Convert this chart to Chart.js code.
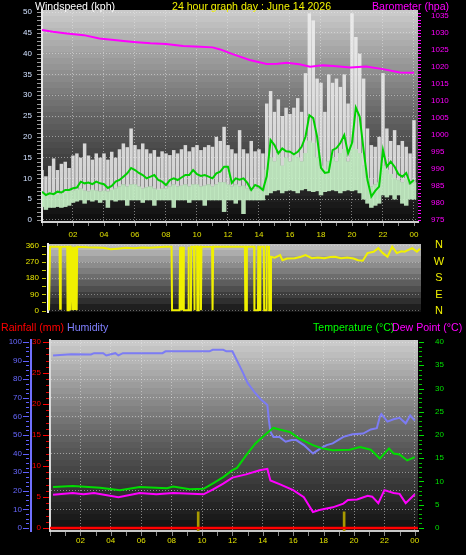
<!DOCTYPE html>
<html>
<head>
<meta charset="utf-8">
<script src="https://cdn.jsdelivr.net/npm/chart.js@4"></script>
<style>
  html, body { margin: 0; padding: 0; background: #000; }
  #wrap { position: relative; width: 466px; height: 555px; overflow: hidden; background: #000;
          font-family: "Liberation Sans", Arial, sans-serif; }
  canvas { position: absolute; left: 0; }
  .t { position: absolute; font-size: 10.6px; line-height: 12px; white-space: nowrap; }
  .d { position: absolute; left: 432px; width: 14px; text-align: center; font-size: 11px; line-height: 12px; color: #f0f000; }
</style>
</head>
<body>
<div id="wrap">
  <canvas id="windChart" width="466" height="245" style="top:0"></canvas>
  <canvas id="dirChart" width="466" height="80" style="top:236px"></canvas>
  <canvas id="tempChart" width="466" height="225" style="top:330px"></canvas>

  <div class="t" style="left:35px;top:0;color:#ffffff">Windspeed (kph)</div>
  <div class="t" style="left:172px;top:0;color:#f0f000">24 hour graph day : June 14 2026</div>
  <div class="t" style="left:372px;top:0;color:#ff00ff">Barometer (hpa)</div>

  <div class="d" style="top:238px">N</div>
  <div class="d" style="top:255px">W</div>
  <div class="d" style="top:271px">S</div>
  <div class="d" style="top:288px">E</div>
  <div class="d" style="top:304px">N</div>

  <div class="t" style="left:1px;top:321px;color:#ff0000">Rainfall (mm)</div>
  <div class="t" style="left:67px;top:321px;color:#8080ff">Humidity</div>
  <div class="t" style="left:313px;top:321px;color:#00ff00">Temperature (°C)</div>
  <div class="t" style="left:392px;top:321px;color:#ff00ff">Dew Point (°C)</div>
</div>

<script>
// ---- data ----
const xTickHours = [2, 4, 6, 8, 10, 12, 14, 16, 18, 20, 22, 24];

// windspeed panel, one value per 15 minutes (kph)
const gustHi = [12, 10.5, 13, 14.8, 12, 13.5, 14, 12.5,
  15.5, 16, 15, 18.4, 15.5, 14.5, 16, 15,
  16, 14.5, 16.4, 15, 17, 18.4, 17.5, 22,
  18, 17, 18.4, 17, 16, 16.8, 15.2, 16.5,
  16, 15.6, 16.8, 16, 17, 18, 16.5, 17.5,
  18, 16.8, 17.5, 18, 17.6, 20, 19, 22.4,
  18, 17, 16, 21.6, 17, 16, 19, 16.5,
  17, 16, 28, 31, 26, 29, 25, 27,
  25.5, 27, 29.3, 26, 35.3, 49.7, 48, 34,
  33, 26, 35, 33, 34, 32, 35, 28,
  49.7, 44, 40, 34, 22, 18, 17.6, 20,
  35.3, 22, 19, 21.6, 18, 19, 17.6, 16,
  24];
const windHi = [6.5, 6.2, 6.5, 6.5, 6.0, 6.5, 6.4, 7.0,
  7.0, 7.2, 7.5, 7.0, 6.8, 7.2, 7.0, 6.8,
  7.0, 6.8, 7.2, 7.5, 8.0, 8.5, 8.0, 8.5,
  8.5, 8.0, 7.5, 7.8, 8.0, 7.5, 7.2, 7.5,
  7.5, 8.0, 8.5, 8.0, 8.2, 8.5, 8.0, 8.5,
  8.5, 8.0, 8.2, 8.5, 8.0, 8.5, 9.0, 9.0,
  8.5, 8.0, 8.5, 8.0, 8.2, 7.5, 7.0, 7.5,
  7.5, 7.0, 12.0, 15.0, 14.0, 16.0, 13.0, 15.0,
  14.0, 16.0, 15.0, 14.0, 16.0, 19.0, 18.5, 15.0,
  13.0, 12.0, 14.0, 15.0, 14.0, 16.0, 17.0, 14.0,
  18.5, 17.0, 16.0, 13.0, 10.0, 8.0, 8.5, 9.0,
  13.0, 12.0, 11.0, 10.0, 9.5, 9.0, 10.0, 8.5,
  9.0];
const windLo = [3.2, 2.5, 3.0, 3.0, 3.2, 3.0, 3.2, 3.5,
  4.2, 4.5, 4.8, 4.0, 4.8, 4.5, 4.8, 4.2,
  4.8, 3.0, 4.8, 4.5, 4.8, 4.8, 3.5, 4.8,
  4.8, 4.8, 4.2, 4.8, 4.8, 3.5, 4.8, 4.8,
  4.8, 4.8, 3.0, 4.8, 4.8, 4.8, 4.2, 4.8,
  4.8, 4.8, 3.5, 4.8, 4.8, 4.8, 4.8, 2.0,
  4.8, 4.8, 4.0, 4.8, 1.5, 4.8, 4.8, 4.8,
  4.8, 4.8, 6.0, 6.5, 7.0, 7.2, 6.5, 7.0,
  7.2, 7.0, 6.5, 7.2, 7.5, 7.0, 6.8, 7.0,
  6.0, 6.8, 7.0, 7.2, 7.0, 6.5, 7.0, 7.2,
  7.0, 7.2, 6.5, 5.0, 4.0, 3.0, 3.5, 4.0,
  6.0, 5.5, 6.0, 5.0, 6.0, 4.0, 3.5, 5.0,
  5.0];
const windAvg = [6.8, 6.0, 6.4, 6.2, 6.8, 6.6, 7.2, 7.2,
  7.6, 7.8, 9.2, 8.8, 9.0, 8.6, 9.2, 8.8,
  8.6, 7.7, 8.2, 9.2, 9.6, 10.4, 11.2, 12.5,
  12.0, 11.3, 10.8, 10.0, 10.4, 10.8, 9.6, 9.2,
  8.4, 9.6, 10.0, 9.6, 10.2, 10.8, 10.8, 12.0,
  11.0, 10.6, 10.8, 10.4, 10.0, 11.2, 11.6, 12.8,
  12.8, 8.9, 10.0, 9.7, 10.0, 8.9, 7.2, 8.4,
  8.0, 7.2, 10.5, 19.2, 18.0, 16.0, 17.2, 16.5,
  16.4, 15.8, 16.4, 17.6, 20.0, 25.2, 24.5, 20.0,
  12.5, 11.3, 11.5, 16.8, 17.3, 18.5, 20.4, 16.0,
  18.5, 27.0, 24.8, 16.8, 9.6, 5.6, 7.0, 8.0,
  16.8, 12.8, 14.0, 12.8, 11.0, 10.4, 11.3, 8.8,
  9.6];
const windHours = Array.from({ length: gustHi.length }, (_, i) => i / 4);
const windTicks = [0, 5, 10, 15, 20, 25, 30, 35, 40, 45, 50];

// barometer [hour, hPa]
const barometer = [[0, 1030.9], [0.7, 1030.4], [1.6, 1029.9], [2.7, 1029.4], [3.7, 1028.4],
  [4.8, 1027.9], [5.9, 1027.4], [7, 1027.0], [8, 1026.8], [9.1, 1026.2], [10.2, 1026.0],
  [11, 1025.8], [11.5, 1025.2], [12.3, 1023.8], [13.4, 1022.1], [14.5, 1020.9], [15.2, 1021.0],
  [15.8, 1021.3], [16.6, 1020.8], [17.3, 1020.1], [18.1, 1020.5], [18.8, 1020.3], [19.9, 1019.9],
  [20.9, 1020.2], [22, 1019.4], [23.1, 1018.4], [24, 1018.3]];
const baroTicks = [975, 980, 985, 990, 995, 1000, 1005, 1010, 1015, 1020, 1025, 1030, 1035];

// wind direction [hour, degrees]
const direction = [[0, 2], [0.07, 356], [0.68, 356], [0.72, 10], [0.76, 355],
  [1.18, 356], [1.2, 2], [1.26, 2], [1.28, 355], [1.38, 356], [1.4, 2], [1.48, 357], [1.55, 2],
  [1.62, 356], [1.68, 3], [1.76, 357], [1.79, 2], [1.82, 356],
  [2.5, 353], [3, 352], [3.5, 350], [4, 342], [4.4, 345], [5, 350], [5.5, 348], [6, 352],
  [6.5, 350], [7, 353], [7.5, 355], [7.93, 355], [7.96, 2], [8.45, 2], [8.48, 356], [8.52, 2],
  [8.58, 357], [8.62, 2], [8.68, 356], [8.72, 2], [9.0, 2], [9.02, 355], [9.05, 2], [9.18, 2],
  [9.2, 356], [9.38, 355], [9.4, 2], [9.43, 356], [9.58, 357], [9.6, 2], [9.66, 2], [9.68, 355],
  [9.8, 356], [9.83, 2], [9.86, 355], [10.55, 356], [10.58, 2], [10.62, 356], [11, 356],
  [11.5, 355], [12, 356], [12.5, 355], [12.67, 355], [12.7, 2], [12.78, 2], [12.8, 356],
  [13.27, 356], [13.29, 2], [13.52, 2], [13.54, 355], [13.63, 355], [13.65, 3], [13.67, 356],
  [13.9, 356], [13.92, 2], [14.06, 2], [14.08, 356], [14.23, 355], [14.25, 2], [14.33, 2],
  [14.36, 300], [14.6, 295], [14.95, 309], [15.1, 281], [15.4, 290], [15.9, 292], [16.3, 300],
  [16.6, 309], [17, 292], [17.4, 296], [17.8, 292], [18.2, 298], [18.5, 300], [18.9, 292],
  [19.3, 296], [19.7, 290], [20, 281], [20.3, 278], [20.6, 320], [21, 328], [21.3, 348],
  [21.6, 320], [21.9, 300], [22.2, 356], [22.5, 320], [22.8, 330], [23, 328], [23.5, 348],
  [23.8, 328], [24, 345]];
const dirTicks = [0, 90, 180, 270, 360];

// bottom panel [hour, value]
const humidity = [[0.2, 92.8], [1.4, 93.5], [2.7, 93.3], [2.9, 94], [3.5, 94], [3.7, 92.8],
  [4.3, 94], [4.5, 92.8], [4.8, 94], [7.4, 94], [7.6, 95], [10.5, 95], [10.7, 95.8], [11.4, 95.8],
  [11.6, 95], [12, 95], [12.7, 83.4], [13, 78], [13.5, 72.6], [13.9, 68.9], [14.3, 66.2],
  [14.4, 58], [14.5, 51.8], [14.7, 49], [15.1, 49], [15.5, 46.4], [15.9, 47.3], [16.2, 47.3],
  [16.7, 44.6], [17.3, 40.1], [17.8, 42.8], [18.2, 44.6], [18.6, 45.5], [19.3, 49], [19.9, 50.4],
  [20.6, 50.8], [21.1, 53], [21.5, 53.7], [21.7, 59.9], [21.8, 61.3], [22.2, 57.2], [22.6, 58.5],
  [23, 59.3], [23.4, 56.3], [23.7, 60.5], [24, 57.7]];
const temperature = [[0.2, 8.8], [1.5, 9.0], [3.3, 8.6], [4.6, 8.1], [5.9, 8.8], [7.7, 8.5],
  [8.1, 8.9], [9.2, 8.3], [10.1, 8.4], [10.7, 9.5], [11.4, 10.9], [12, 12.4], [12.3, 12.9],
  [12.9, 15.6], [13.5, 18.1], [14, 19.6], [14.5, 21], [14.7, 21.5], [15.3, 21], [15.8, 20.6],
  [16.4, 19.2], [17.3, 17.8], [17.9, 17.1], [18.6, 16.7], [19.7, 16.8], [20.4, 17.4],
  [21.1, 16.8], [21.7, 14.9], [22.3, 17.1], [22.6, 16], [23, 15.8], [23.5, 14.5], [24, 15.2]];
const dewPoint = [[0.2, 7.1], [1.5, 7.5], [2.2, 7.2], [2.9, 7.5], [4.5, 6.6], [5.9, 7.5], [7, 7.2],
  [8.1, 7.5], [10.1, 7.2], [10.7, 8.2], [11.4, 9.5], [12, 10.8], [12.9, 11.5], [13.8, 12.4],
  [14.3, 12.7], [14.5, 10.2], [15.1, 9.4], [16, 8.1], [16.7, 6.6], [17.3, 3.4], [17.8, 3.9],
  [18.6, 4.4], [19.3, 5.2], [19.6, 6.0], [20.2, 6.1], [20.9, 6.9], [21.2, 6.7], [21.6, 5.3],
  [22, 8.1], [22.6, 7.5], [23, 7.3], [23.4, 5.3], [23.9, 6.9], [24, 7.2]];
const rainfall = [[0, 0], [24.2, 0]];
const rainRate = [[9.75, 2.6], [19.35, 2.6]];
const humTicks = [0, 10, 20, 30, 40, 50, 60, 70, 80, 90, 100];
const rainTicks = [0, 5, 10, 15, 20, 25, 30];
const tempTicks = [0, 5, 10, 15, 20, 25, 30, 35, 40];

// ---- helpers ----
const FONT = '"Liberation Sans", Arial, sans-serif';
Chart.defaults.font.family = FONT;
Chart.defaults.font.size = 8;

const pts = arr => arr.map(([x, y]) => ({ x, y }));
const hourLabel = v => String(v % 24).padStart(2, '0');
const plain = v => String(v);
const gridDots = 'rgba(235,235,235,0.5)';

function fixTicks(values) {
  return scale => { scale.ticks = values.map(v => ({ value: v })); };
}
function fit(size) {
  return scale => {
    if (scale.isHorizontal()) scale.height = size; else scale.width = size;
    scale.paddingTop = scale.paddingBottom = scale.paddingLeft = scale.paddingRight = 0;
  };
}

// gray stepped background inside the plot, small tick marks and extra axis labels outside it
function makeDeco(stops, marks, labels = []) {
  return {
    id: 'deco',
    beforeDraw(chart) {
      const { ctx, chartArea: a } = chart;
      ctx.save();
      for (let y = a.top; y < a.bottom; y += 6) {
        const t = (y + 3 - a.top) / (a.bottom - a.top);
        let g = stops[stops.length - 1][1];
        for (let k = 1; k < stops.length; k++) {
          if (t <= stops[k][0]) {
            const [t0, g0] = stops[k - 1], [t1, g1] = stops[k];
            g = g0 + (g1 - g0) * (t - t0) / (t1 - t0);
            break;
          }
        }
        g = Math.round(g);
        ctx.fillStyle = `rgb(${g},${g},${g})`;
        ctx.fillRect(a.left, y, a.right - a.left, Math.min(6, a.bottom - y));
      }
      ctx.restore();
    },
    afterDraw(chart) {
      const { ctx } = chart;
      ctx.save();
      ctx.lineWidth = 1;
      marks.forEach(m => {
        const s = chart.scales[m.axis];
        ctx.strokeStyle = m.color;
        ctx.beginPath();
        for (let v = m.from; v <= m.to + 1e-9; v += m.step) {
          const p = Math.round(s.getPixelForValue(v)) + 0.5;
          if (s.isHorizontal()) { ctx.moveTo(p, m.a); ctx.lineTo(p, m.b); }
          else { ctx.moveTo(m.a, p); ctx.lineTo(m.b, p); }
        }
        ctx.stroke();
      });
      ctx.font = `8px ${FONT}`;
      ctx.textBaseline = 'middle';
      labels.forEach(l => {
        const s = chart.scales[l.axis];
        ctx.fillStyle = l.color;
        ctx.textAlign = l.align;
        l.values.forEach(v => ctx.fillText(String(v), l.x, s.getPixelForValue(v)));
      });
      ctx.restore();
    }
  };
}

const common = {
  responsive: false,
  animation: false,
  events: [],
  plugins: { legend: { display: false }, tooltip: { enabled: false } }
};

// ---- windspeed / barometer ----
new Chart(document.getElementById('windChart'), {
  type: 'bar',
  data: {
    datasets: [
      { type: 'line', data: pts(barometer), yAxisID: 'y2', borderColor: '#ff00ff', borderWidth: 2,
        pointRadius: 0, tension: 0, order: 1 },
      { type: 'line', data: windHours.map((h, i) => ({ x: h, y: windAvg[i] })), yAxisID: 'y',
        borderColor: '#00d000', borderWidth: 2, pointRadius: 0, tension: 0, order: 2 },
      { type: 'bar', data: windHours.map((h, i) => ({ x: h, y: [windLo[i], windHi[i]] })), yAxisID: 'y',
        backgroundColor: 'rgba(200,242,200,0.9)', grouped: false, barPercentage: 1,
        categoryPercentage: 1, order: 3 },
      { type: 'bar', data: windHours.map((h, i) => ({ x: h, y: [windHi[i], gustHi[i]] })), yAxisID: 'y',
        backgroundColor: 'rgba(240,240,240,0.85)', grouped: false, barPercentage: 0.9,
        categoryPercentage: 1, order: 4 }
    ]
  },
  options: {
    ...common,
    layout: { padding: { top: 10 } },
    scales: {
      x: { type: 'linear', offset: false, min: 0, max: 24.26, afterBuildTicks: fixTicks(xTickHours), afterFit: fit(23),
           ticks: { color: '#e0e000', padding: 8, callback: hourLabel, maxRotation: 0, autoSkip: false },
           grid: { color: gridDots, drawTicks: false, offset: false }, border: { color: '#d0d0d0', width: 2, dash: [1, 2] } },
      y: { position: 'left', min: -0.5, max: 50.5, afterBuildTicks: fixTicks(windTicks), afterFit: fit(42),
           ticks: { color: '#d0e0ff', padding: 10, callback: plain },
           grid: { color: gridDots, drawTicks: false }, border: { color: '#e8e8e8', width: 2, dash: [1, 2] } },
      y2: { position: 'right', min: 974.4, max: 1036.8, afterBuildTicks: fixTicks(baroTicks), afterFit: fit(48),
            ticks: { color: '#ff00ff', padding: 5, callback: plain },
            grid: { display: false }, border: { display: false } }
    }
  },
  plugins: [makeDeco([[0, 205], [0.5, 100], [1, 12]], [
    { axis: 'y', from: 0, to: 50, step: 1, a: 37, b: 41, color: '#9a9a9a' },
    { axis: 'y2', from: 975, to: 1036, step: 1, a: 418, b: 421, color: '#ff00ff' },
    { axis: 'x', from: 0, to: 24, step: 1, a: 223, b: 226, color: '#8c8c8c' }
  ])]
});

// ---- wind direction ----
new Chart(document.getElementById('dirChart'), {
  type: 'line',
  data: {
    datasets: [
      { data: pts(direction), borderColor: '#f0f000', borderWidth: 2, pointRadius: 0, tension: 0 }
    ]
  },
  options: {
    ...common,
    layout: { padding: { top: 8, bottom: 4, right: 45 } },
    scales: {
      x: { type: 'linear', display: false, offset: false, min: -0.065, max: 24.065 },
      y: { position: 'left', min: -8, max: 371, afterBuildTicks: fixTicks(dirTicks), afterFit: fit(48),
           ticks: { color: '#e8e800', padding: 9, callback: plain },
           grid: { color: 'rgba(235,235,235,0.4)', drawTicks: false },
           border: { color: '#f0f0f0', width: 2, dash: [1, 2] } }
    }
  },
  plugins: [makeDeco([[0, 195], [1, 18]], [
    { axis: 'y', from: 0, to: 360, step: 45, a: 42, b: 46, color: '#c8c800' }
  ])]
});

// ---- rainfall / humidity / temperature / dew point ----
new Chart(document.getElementById('tempChart'), {
  type: 'line',
  data: {
    datasets: [
      { type: 'line', data: pts(rainfall), yAxisID: 'yr', borderColor: '#ff0000', borderWidth: 2.5,
        pointRadius: 0, order: 0 },
      { type: 'bar', data: rainRate.map(([h, v]) => ({ x: h, y: [-0.5, v] })), yAxisID: 'yr',
        backgroundColor: '#a89a00', barThickness: 2, grouped: false, order: 1 },
      { type: 'line', data: pts(dewPoint), yAxisID: 'yt', borderColor: '#ff00ff', borderWidth: 2,
        pointRadius: 0, tension: 0, order: 2 },
      { type: 'line', data: pts(temperature), yAxisID: 'yt', borderColor: '#00dd00', borderWidth: 2,
        pointRadius: 0, tension: 0, order: 3 },
      { type: 'line', data: pts(humidity), yAxisID: 'yh', borderColor: '#7c7cf4', borderWidth: 2,
        pointRadius: 0, tension: 0, order: 4 }
    ]
  },
  options: {
    ...common,
    layout: { padding: { top: 10 } },
    scales: {
      x: { type: 'linear', offset: false, min: 0, max: 24.21, afterBuildTicks: fixTicks(xTickHours), afterFit: fit(24),
           ticks: { color: '#e0e000', padding: 5, callback: hourLabel, maxRotation: 0, autoSkip: false },
           grid: { color: gridDots, drawTicks: false, offset: false }, border: { color: '#c8c8c8', width: 2, dash: [1, 2] } },
      yh: { position: 'left', weight: 2, min: -1.6, max: 101.1, afterBuildTicks: fixTicks(humTicks),
            afterFit: fit(31), ticks: { color: '#6868ff', padding: 9, callback: plain },
            grid: { color: gridDots, drawTicks: false },
            border: { color: '#7070ff', width: 2, dash: [1, 2] } },
      yr: { position: 'left', weight: 1, min: -0.49, max: 30.33, afterBuildTicks: fixTicks(rainTicks),
            afterFit: fit(19), ticks: { display: false },
            grid: { display: false }, border: { color: '#d8d8d8', width: 2 } },
      yt: { position: 'right', min: -0.7, max: 40.45, afterBuildTicks: fixTicks(tempTicks),
            afterFit: fit(48), ticks: { color: '#00e000', padding: 9, callback: plain },
            grid: { display: false }, border: { display: false } }
    }
  },
  plugins: [makeDeco([[0, 205], [0.5, 100], [1, 14]], [
    { axis: 'yh', from: 0, to: 100, step: 2.5, a: 26, b: 29, color: '#6060ff' },
    { axis: 'yh', from: 0, to: 100, step: 10, a: 23, b: 29, color: '#6060ff' },
    { axis: 'yr', from: 0, to: 30, step: 1, a: 46, b: 49, color: '#e00000' },
    { axis: 'yr', from: 0, to: 30, step: 5, a: 43, b: 49, color: '#ff0000' },
    { axis: 'yt', from: 0, to: 40, step: 1, a: 419, b: 422, color: '#00c000' },
    { axis: 'yt', from: 0, to: 40, step: 5, a: 419, b: 424, color: '#00e000' },
    { axis: 'x', from: 0, to: 24, step: 1, a: 202, b: 206, color: '#8c8c8c' }
  ], [
    { axis: 'yr', values: rainTicks, x: 41, align: 'right', color: '#ff0000' }
  ])]
});
</script>
</body>
</html>
